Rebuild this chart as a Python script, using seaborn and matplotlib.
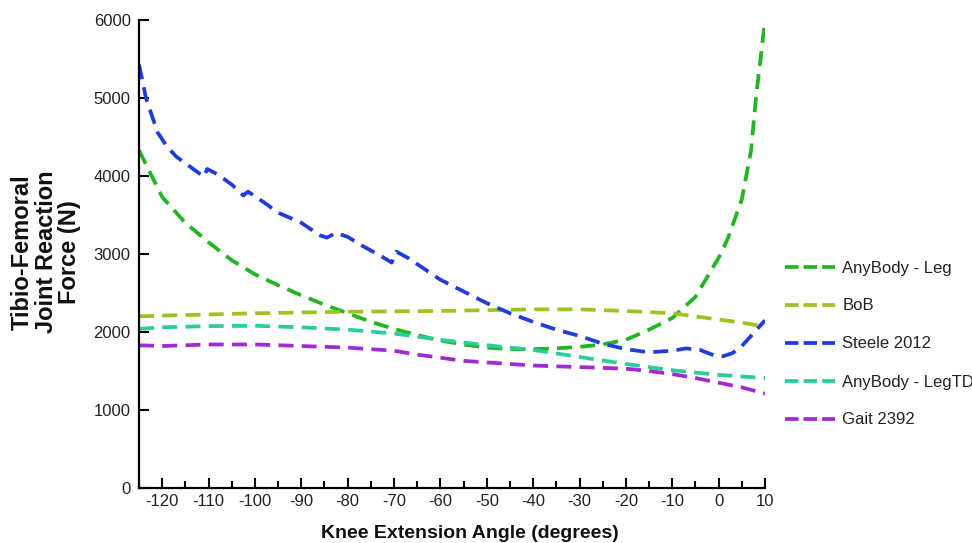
import numpy as np
import pandas as pd
import matplotlib
matplotlib.use("Agg")
import matplotlib.pyplot as plt
from matplotlib.ticker import MultipleLocator
import seaborn as sns

# ---- data ----
leg_x = [-125, -120, -115, -110, -105, -100, -95, -90, -85, -80, -75, -70, -65, -60, -55, -50,
         -45, -40, -35, -30, -25, -20, -15, -10, -5, 0, 2, 5, 7, 8, 10]
leg_y = [4330, 3730, 3400, 3150, 2920, 2740, 2600, 2470, 2350, 2240, 2130, 2040, 1960, 1890, 1840, 1800,
         1780, 1780, 1790, 1810, 1840, 1900, 2030, 2180, 2450, 2950, 3200, 3700, 4330, 4970, 6000]

bob_x = [-125, -120, -110, -100, -90, -80, -70, -60, -50, -40, -30, -20, -10, 0, 5, 10]
bob_y = [2200, 2210, 2225, 2240, 2250, 2260, 2265, 2270, 2280, 2290, 2290, 2270, 2240, 2160, 2120, 2070]

steele_x = [-125, -123.5, -121, -119, -117, -114, -111, -110.3, -108, -105, -102.5, -101.5, -98, -95,
            -90, -86, -84.5, -82.5, -80, -77, -73, -70.5, -69.5, -67, -63, -60, -55, -50, -45, -40,
            -35, -30, -25, -20, -15, -10, -7, -4, -1, 1, 3, 5, 7, 10]
steele_y = [5430, 5000, 4560, 4380, 4250, 4120, 3990, 4090, 4020, 3890, 3750, 3800, 3660, 3530,
            3400, 3240, 3210, 3270, 3220, 3110, 2980, 2890, 3030, 2950, 2790, 2670, 2520, 2370, 2240, 2130,
            2030, 1950, 1850, 1780, 1740, 1760, 1790, 1770, 1700, 1690, 1730, 1820, 1950, 2150]

legtd_x = [-125, -120, -110, -100, -90, -80, -70, -60, -50, -40, -30, -20, -10, 0, 10]
legtd_y = [2040, 2060, 2075, 2080, 2060, 2030, 1980, 1900, 1830, 1770, 1680, 1590, 1510, 1450, 1410]

gait_x = [-125, -120, -115, -110, -105, -100, -95, -90, -85, -80, -75, -70, -65, -60, -55, -50,
          -45, -40, -35, -30, -25, -20, -15, -10, -5, 0, 5, 10]
gait_y = [1830, 1820, 1830, 1840, 1840, 1840, 1830, 1820, 1810, 1800, 1780, 1760, 1710, 1670, 1630, 1610,
          1590, 1570, 1560, 1550, 1540, 1530, 1500, 1460, 1410, 1350, 1290, 1210]

series_names = ["AnyBody - Leg", "BoB", "Steele 2012", "AnyBody - LegTD", "Gait 2392"]
series_colors = ["#22b522", "#9cc41e", "#1f3ddc", "#2ccb9c", "#a12ad6"]
x_ticks = list(range(-120, 11, 10))
y_ticks = [0, 1000, 2000, 3000, 4000, 5000, 6000]

frames = []
for name, xs, ys in zip(series_names,
                        [leg_x, bob_x, steele_x, legtd_x, gait_x],
                        [leg_y, bob_y, steele_y, legtd_y, gait_y]):
    frames.append(pd.DataFrame({"angle": xs, "force": ys, "model": name}))
df = pd.concat(frames, ignore_index=True)

sns.set_style("white")
plt.rcParams["font.family"] = ["Liberation Sans", "DejaVu Sans"]
plt.rcParams["axes.unicode_minus"] = False

fig = plt.figure(figsize=(9.72, 5.43), dpi=100)
ax = fig.add_axes([139 / 972, 1 - 488 / 543, (765 - 139) / 972, (488 - 20) / 543])

palette = dict(zip(series_names, series_colors))
dashes = {n: (4, 2.2) for n in series_names}
sns.lineplot(data=df, x="angle", y="force", hue="model", style="model",
             hue_order=series_names, style_order=series_names,
             palette=palette, dashes=dashes, estimator=None, sort=False,
             linewidth=2.7, ax=ax, legend=True)

ax.set_xlim(-125, 10)
ax.set_ylim(0, 6000)
ax.set_xticks(x_ticks)
ax.set_yticks(y_ticks)
ax.xaxis.set_minor_locator(MultipleLocator(5))
for s in ["top", "right"]:
    ax.spines[s].set_visible(False)
for s in ["left", "bottom"]:
    ax.spines[s].set_color("black")
    ax.spines[s].set_linewidth(1.6)
ax.tick_params(axis="y", which="major", direction="in", length=7, width=1.5,
               color="black", labelsize=12, pad=6, left=True)
ax.tick_params(axis="x", which="major", direction="in", length=7.5, width=1.5,
               color="black", labelsize=12, pad=4, bottom=True)
ax.tick_params(axis="x", which="minor", direction="in", length=5, width=1.5,
               color="black", bottom=True)
for lab in ax.get_xticklabels() + ax.get_yticklabels():
    lab.set_color("#222222")

ax.set_xlabel("Knee Extension Angle (degrees)", fontsize=14, fontweight="bold", color="#111111")
ax.set_ylabel("Tibio-Femoral\nJoint Reaction\nForce (N)", fontsize=17, fontweight="bold",
              linespacing=1.04, color="#111111")
ax.xaxis.set_label_coords(0.529, -0.078)
ax.yaxis.set_label_coords(-0.092, 0.504)
ax.grid(False)

leg = ax.legend(frameon=False, fontsize=12, handlelength=3.0, handletextpad=0.45,
                labelspacing=1.38, loc="center left",
                bbox_to_anchor=(778 / 972, 1 - 344 / 543), bbox_transform=fig.transFigure,
                borderaxespad=0)
for line in leg.get_lines():
    line.set_linewidth(2.7)
    line.set_dashes((3.6, 1.35))
for t in leg.get_texts():
    t.set_color("#222222")

fig.savefig("out.png", dpi=100)
